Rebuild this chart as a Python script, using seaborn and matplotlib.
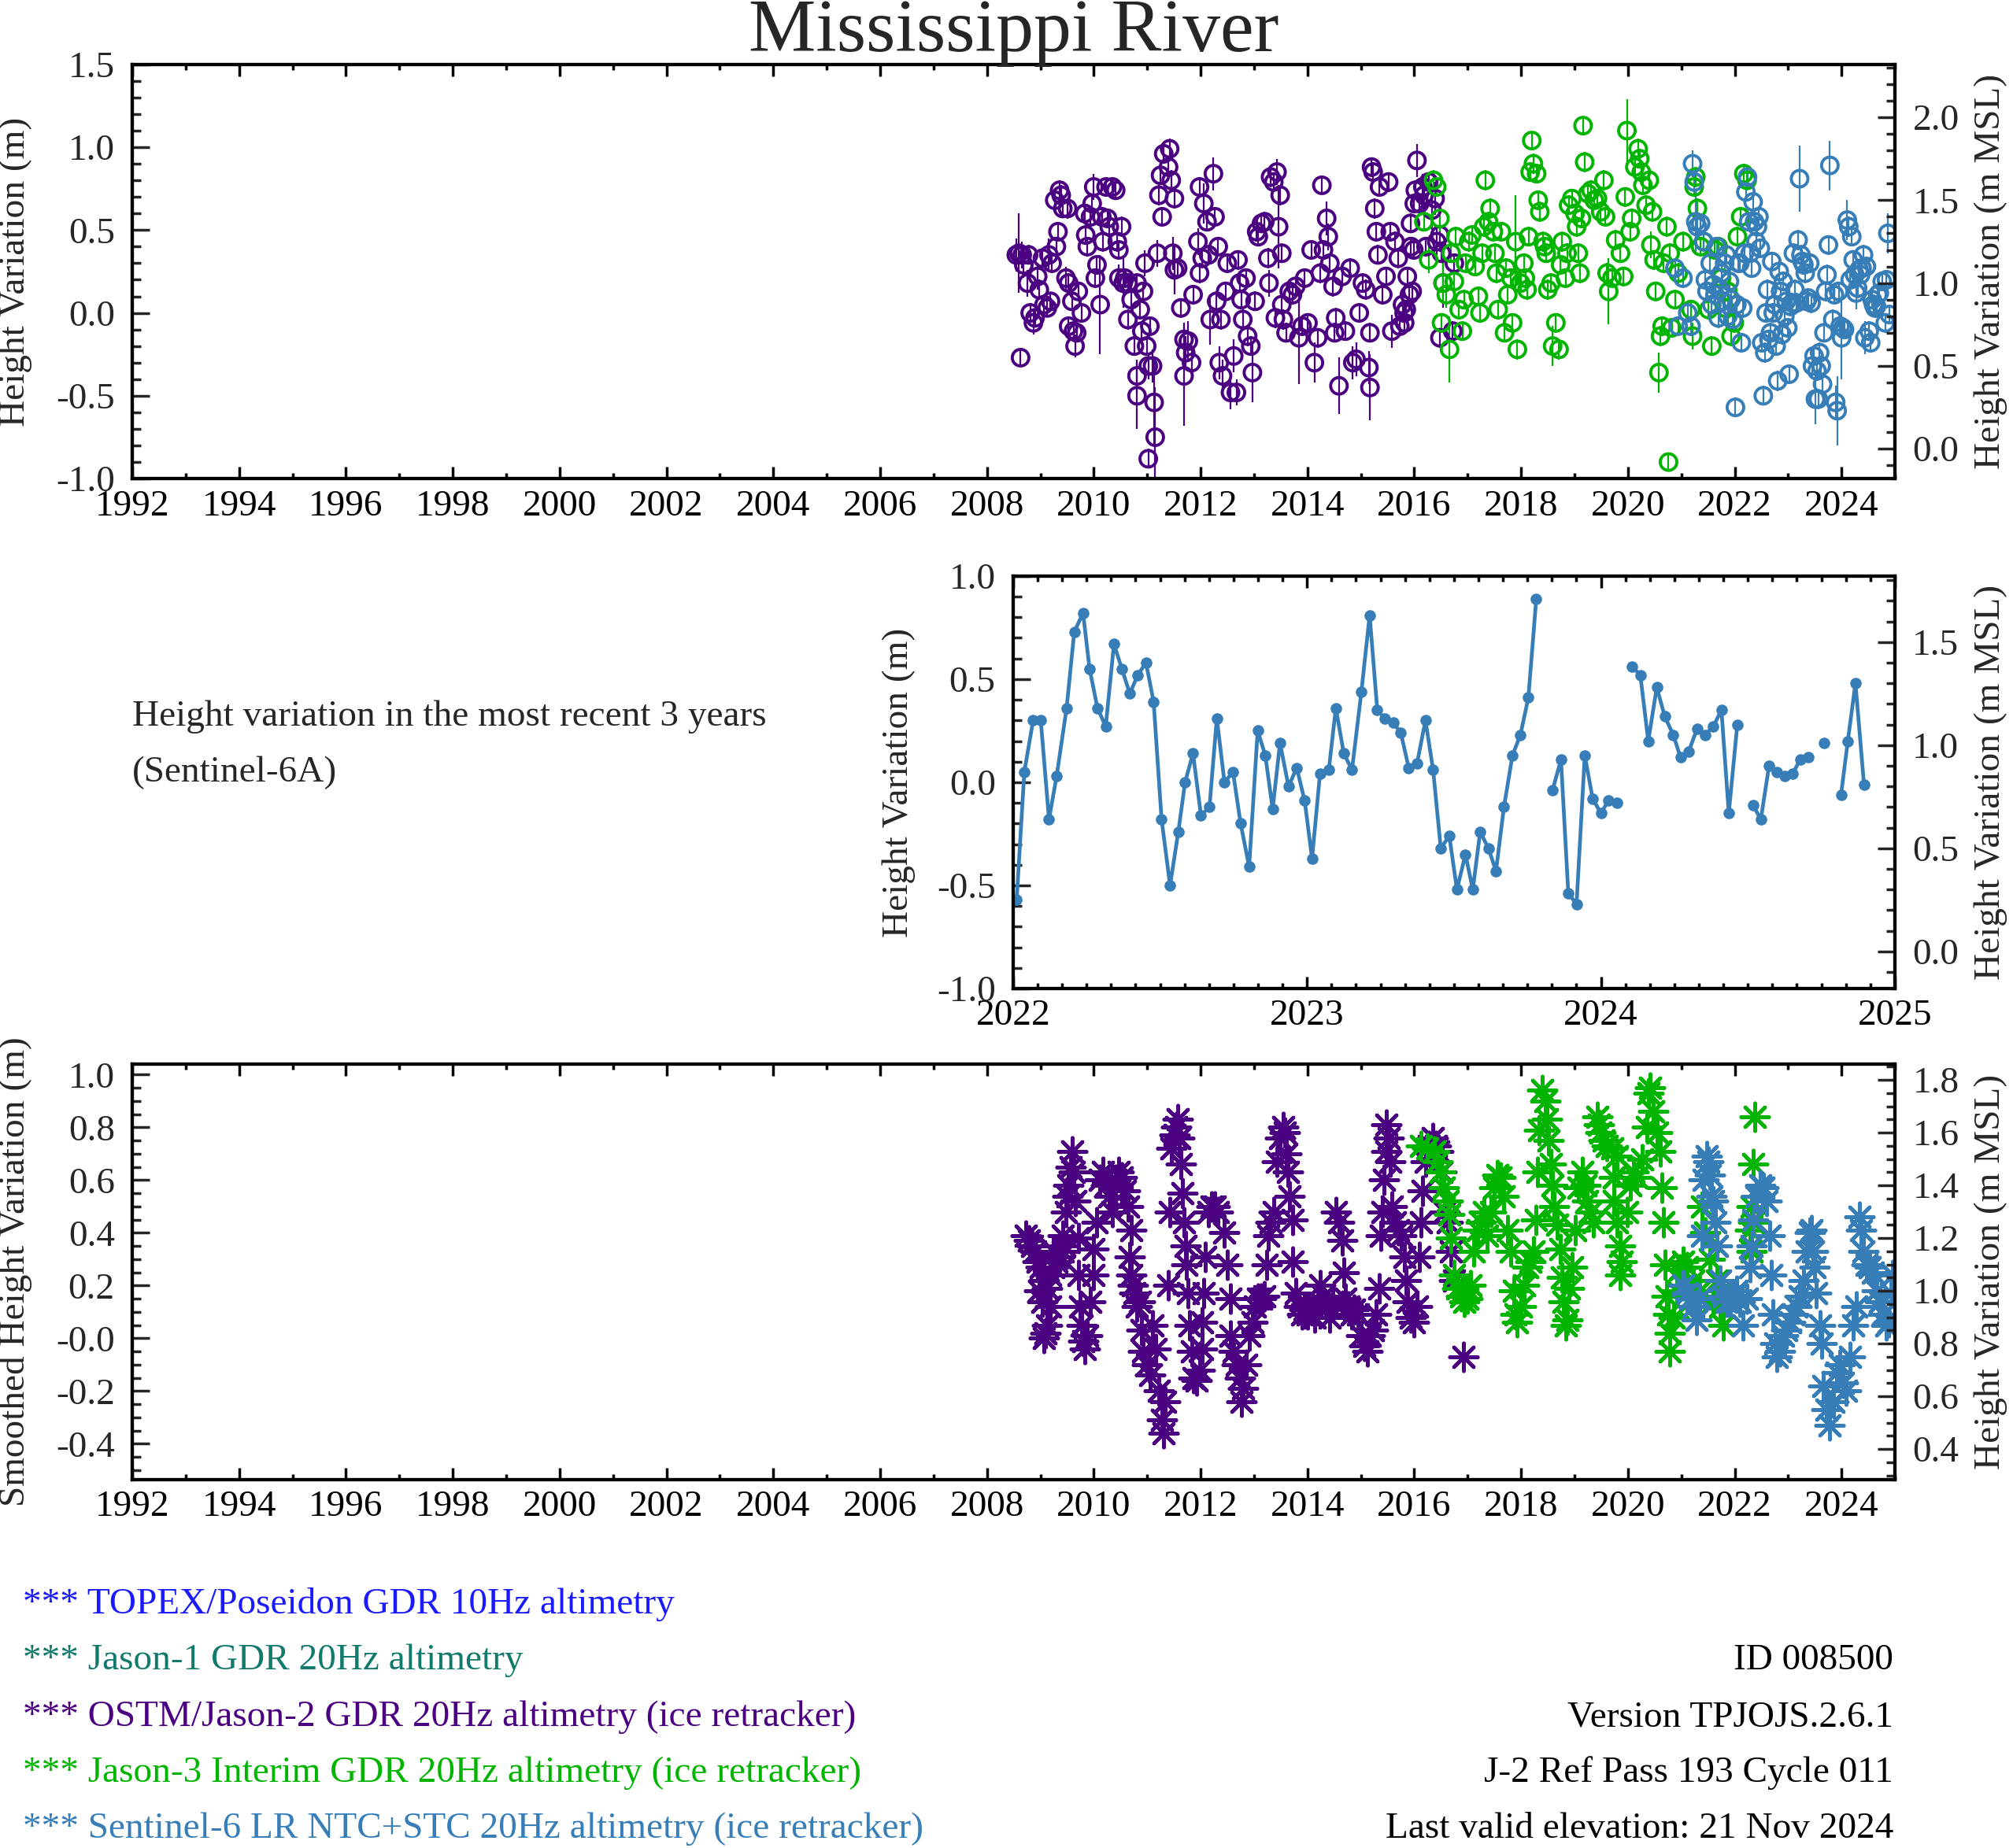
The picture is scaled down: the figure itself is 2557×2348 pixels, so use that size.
import numpy as np
import pandas as pd
import seaborn as sns
import matplotlib.pyplot as plt
from matplotlib.ticker import MultipleLocator

# mission colours
J2_COLOR = '#4b0082'
J3_COLOR = '#00b400'
S6_COLOR = '#377eb8'
MSL_OFFSET = 0.82  # right axis (m MSL) = left axis + offset

# OSTM/Jason-2 heights: (decimal year, height m, error m)
j2_obs = [
    (2008.55, 0.35, 0.10), (2008.60, 0.36, 0.24), (2008.66, 0.35, 0.08), (2008.63, -0.27, 0.05),
    (2008.69, 0.29, 0.08), (2008.76, 0.18, 0.08), (2008.78, 0.35, 0.06), (2008.81, 0.00, 0.06),
    (2008.87, -0.06, 0.07), (2008.90, -0.03, 0.05), (2008.95, 0.22, 0.08), (2008.98, 0.14, 0.06),
    (2009.04, 0.33, 0.06), (2009.07, 0.05, 0.06), (2009.13, 0.03, 0.05), (2009.16, 0.35, 0.10),
    (2009.19, 0.07, 0.05), (2009.22, 0.30, 0.06), (2009.27, 0.68, 0.06), (2009.30, 0.40, 0.06),
    (2009.33, 0.49, 0.06), (2009.36, 0.74, 0.06), (2009.39, 0.71, 0.06), (2009.42, 0.63, 0.05),
    (2009.48, 0.21, 0.07), (2009.51, 0.63, 0.06), (2009.53, 0.18, 0.06), (2009.53, -0.08, 0.06),
    (2009.59, 0.07, 0.06), (2009.62, -0.11, 0.06), (2009.65, -0.20, 0.07), (2009.68, -0.12, 0.06),
    (2009.71, 0.13, 0.06), (2009.77, 0.00, 0.06), (2009.83, 0.60, 0.06), (2009.85, 0.47, 0.06),
    (2009.88, 0.40, 0.06), (2009.94, 0.58, 0.06), (2009.97, 0.66, 0.06), (2010.00, 0.76, 0.08),
    (2010.03, 0.21, 0.06), (2010.06, 0.29, 0.06), (2010.12, 0.05, 0.30), (2010.15, 0.58, 0.06),
    (2010.17, 0.43, 0.06), (2010.23, 0.76, 0.06), (2010.26, 0.57, 0.06), (2010.29, 0.52, 0.06),
    (2010.35, 0.76, 0.06), (2010.41, 0.74, 0.05), (2010.44, 0.43, 0.06), (2010.47, 0.38, 0.06),
    (2010.47, 0.21, 0.08), (2010.52, 0.52, 0.06), (2010.55, 0.18, 0.15), (2010.58, 0.21, 0.06),
    (2010.64, 0.18, 0.06), (2010.64, -0.04, 0.06), (2010.70, 0.08, 0.06), (2010.76, -0.20, 0.06),
    (2010.81, 0.18, 0.06), (2010.81, -0.38, 0.10), (2010.81, -0.50, 0.20), (2010.87, 0.02, 0.06),
    (2010.90, -0.11, 0.06), (2010.93, 0.13, 0.06), (2010.96, 0.30, 0.08), (2010.99, -0.20, 0.06),
    (2011.02, -0.32, 0.08), (2011.02, -0.88, 0.06), (2011.05, -0.08, 0.06), (2011.10, -0.32, 0.10),
    (2011.13, -0.54, 0.25), (2011.15, -0.75, 0.30), (2011.19, 0.36, 0.08), (2011.22, 0.71, 0.06),
    (2011.25, 0.83, 0.06), (2011.28, 0.58, 0.06), (2011.31, 0.96, 0.06), (2011.40, 0.88, 0.06),
    (2011.42, 0.99, 0.06), (2011.45, 0.80, 0.06), (2011.48, 0.36, 0.10), (2011.51, 0.69, 0.06),
    (2011.51, 0.26, 0.15), (2011.57, 0.27, 0.06), (2011.63, 0.03, 0.06), (2011.69, -0.16, 0.10),
    (2011.72, -0.24, 0.10), (2011.77, -0.17, 0.12), (2011.69, -0.38, 0.30), (2011.83, -0.30, 0.10),
    (2011.86, 0.11, 0.06), (2011.95, 0.43, 0.08), (2011.98, 0.76, 0.06), (2011.98, 0.24, 0.06),
    (2012.03, 0.33, 0.06), (2012.06, 0.66, 0.12), (2012.12, 0.55, 0.06), (2012.15, 0.35, 0.06),
    (2012.18, -0.04, 0.15), (2012.24, 0.84, 0.10), (2012.27, 0.58, 0.06), (2012.30, 0.07, 0.06),
    (2012.33, 0.40, 0.06), (2012.35, -0.30, 0.10), (2012.38, -0.04, 0.06), (2012.41, -0.38, 0.10),
    (2012.47, 0.13, 0.06), (2012.50, 0.30, 0.06), (2012.56, -0.48, 0.10), (2012.62, -0.26, 0.10),
    (2012.67, -0.48, 0.08), (2012.70, 0.32, 0.06), (2012.73, 0.18, 0.06), (2012.76, 0.08, 0.06),
    (2012.79, -0.04, 0.06), (2012.85, 0.21, 0.06), (2012.88, -0.14, 0.06), (2012.94, -0.20, 0.06),
    (2012.97, -0.36, 0.18), (2013.02, 0.07, 0.06), (2013.05, 0.49, 0.06), (2013.08, 0.46, 0.06),
    (2013.14, 0.54, 0.06), (2013.20, 0.55, 0.06), (2013.26, 0.33, 0.06), (2013.28, 0.18, 0.08),
    (2013.31, 0.82, 0.06), (2013.37, 0.79, 0.06), (2013.43, 0.85, 0.08), (2013.46, 0.52, 0.25),
    (2013.49, 0.71, 0.06), (2013.52, 0.36, 0.06), (2013.40, -0.03, 0.06), (2013.52, 0.05, 0.06),
    (2013.55, -0.04, 0.06), (2013.60, -0.12, 0.06), (2013.66, 0.13, 0.06), (2013.72, 0.11, 0.06),
    (2013.78, 0.16, 0.06), (2013.84, -0.15, 0.28), (2013.90, -0.08, 0.06), (2013.95, 0.21, 0.06),
    (2014.01, -0.06, 0.06), (2014.07, 0.38, 0.06), (2014.13, -0.30, 0.12), (2014.19, -0.15, 0.06),
    (2014.24, 0.24, 0.06), (2014.27, 0.77, 0.05), (2014.30, 0.38, 0.06), (2014.36, 0.57, 0.10),
    (2014.39, 0.46, 0.08), (2014.42, 0.30, 0.06), (2014.48, 0.16, 0.06), (2014.51, -0.12, 0.06),
    (2014.53, -0.03, 0.06), (2014.59, -0.44, 0.17), (2014.65, 0.22, 0.06), (2014.71, -0.11, 0.06),
    (2014.80, 0.27, 0.06), (2014.85, -0.30, 0.10), (2014.91, -0.28, 0.10), (2014.97, 0.00, 0.06),
    (2015.03, 0.18, 0.06), (2015.09, 0.14, 0.06), (2015.15, -0.33, 0.10), (2015.17, -0.45, 0.20),
    (2015.17, -0.12, 0.06), (2015.20, 0.88, 0.06), (2015.23, 0.85, 0.06), (2015.26, 0.63, 0.06),
    (2015.29, 0.49, 0.06), (2015.32, 0.35, 0.06), (2015.35, 0.76, 0.06), (2015.41, 0.11, 0.06),
    (2015.47, 0.22, 0.06), (2015.52, 0.79, 0.06), (2015.55, 0.49, 0.06), (2015.58, -0.11, 0.10),
    (2015.64, 0.43, 0.06), (2015.70, 0.33, 0.06), (2015.73, -0.08, 0.06), (2015.78, 0.05, 0.06),
    (2015.81, 0.00, 0.06), (2015.82, -0.06, 0.06), (2015.85, 0.02, 0.06), (2015.87, 0.22, 0.06),
    (2015.91, 0.11, 0.06), (2015.93, 0.54, 0.06), (2015.94, 0.40, 0.06), (2015.96, 0.13, 0.06),
    (2015.99, 0.38, 0.06), (2016.00, 0.66, 0.06), (2016.02, 0.74, 0.06), (2016.05, 0.92, 0.10),
    (2016.10, 0.66, 0.06), (2016.16, 0.76, 0.08), (2016.18, 0.71, 0.10), (2016.22, 0.40, 0.06),
    (2016.27, 0.79, 0.06), (2016.33, 0.62, 0.12), (2016.39, 0.69, 0.10), (2016.42, 0.43, 0.08),
    (2016.48, 0.47, 0.10), (2016.48, -0.15, 0.06), (2016.51, 0.36, 0.06), (2016.54, 0.18, 0.15),
    (2016.72, -0.11, 0.06), (2016.75, 0.30, 0.06),
]

# Jason-3 heights: (decimal year, height m, error m)
j3_obs = [
    (2016.18, 0.55, 0.06), (2016.27, 0.32, 0.08), (2016.36, 0.80, 0.06), (2016.42, 0.76, 0.06),
    (2016.48, 0.57, 0.08), (2016.51, -0.06, 0.06), (2016.54, 0.18, 0.12), (2016.60, 0.11, 0.08),
    (2016.66, -0.22, 0.20), (2016.69, 0.36, 0.06), (2016.75, 0.19, 0.06), (2016.78, 0.46, 0.06),
    (2016.84, 0.02, 0.06), (2016.90, -0.11, 0.06), (2016.93, 0.08, 0.06), (2016.96, 0.30, 0.06),
    (2017.02, 0.43, 0.06), (2017.08, 0.47, 0.06), (2017.14, 0.28, 0.06), (2017.20, 0.10, 0.06),
    (2017.23, 0.00, 0.06), (2017.27, 0.36, 0.06), (2017.30, 0.52, 0.06), (2017.33, 0.80, 0.06),
    (2017.39, 0.55, 0.06), (2017.42, 0.63, 0.06), (2017.48, 0.49, 0.06), (2017.51, 0.36, 0.06),
    (2017.54, 0.24, 0.06), (2017.57, 0.02, 0.06), (2017.63, 0.49, 0.06), (2017.69, -0.12, 0.06),
    (2017.72, 0.27, 0.06), (2017.75, 0.11, 0.06), (2017.81, 0.21, 0.06), (2017.84, -0.06, 0.06),
    (2017.90, 0.43, 0.28), (2017.93, -0.22, 0.06), (2017.99, 0.18, 0.06), (2018.05, 0.30, 0.06),
    (2018.08, 0.21, 0.06), (2018.11, 0.14, 0.06), (2018.14, 0.46, 0.06), (2018.17, 0.85, 0.06),
    (2018.20, 1.04, 0.05), (2018.23, 0.90, 0.06), (2018.29, 0.84, 0.06), (2018.32, 0.68, 0.06),
    (2018.35, 0.61, 0.06), (2018.41, 0.43, 0.06), (2018.44, 0.40, 0.06), (2018.47, 0.36, 0.06),
    (2018.50, 0.14, 0.06), (2018.56, 0.18, 0.06), (2018.59, -0.20, 0.12), (2018.65, -0.06, 0.06),
    (2018.71, -0.22, 0.06), (2018.74, 0.29, 0.06), (2018.77, 0.43, 0.06), (2018.83, 0.21, 0.06),
    (2018.86, 0.36, 0.06), (2018.89, 0.65, 0.06), (2018.95, 0.69, 0.06), (2019.01, 0.60, 0.06),
    (2019.04, 0.52, 0.06), (2019.07, 0.36, 0.06), (2019.10, 0.24, 0.06), (2019.13, 0.57, 0.06),
    (2019.16, 1.13, 0.05), (2019.19, 0.91, 0.06), (2019.25, 0.72, 0.06), (2019.31, 0.74, 0.06),
    (2019.37, 0.68, 0.06), (2019.43, 0.69, 0.06), (2019.49, 0.61, 0.06), (2019.55, 0.80, 0.06),
    (2019.58, 0.58, 0.06), (2019.61, 0.24, 0.06), (2019.64, 0.13, 0.20), (2019.70, 0.21, 0.06),
    (2019.77, 0.44, 0.06), (2019.86, 0.36, 0.06), (2019.92, 0.22, 0.06), (2019.95, 0.70, 0.06),
    (2019.98, 1.10, 0.19), (2020.04, 0.49, 0.06), (2020.07, 0.57, 0.06), (2020.13, 0.88, 0.06),
    (2020.19, 0.99, 0.06), (2020.22, 0.93, 0.06), (2020.25, 0.85, 0.06), (2020.28, 0.77, 0.06),
    (2020.34, 0.65, 0.06), (2020.40, 0.80, 0.06), (2020.43, 0.41, 0.08), (2020.46, 0.61, 0.06),
    (2020.49, 0.32, 0.06), (2020.52, 0.13, 0.06), (2020.58, -0.36, 0.12), (2020.61, -0.14, 0.06),
    (2020.64, -0.08, 0.06), (2020.67, 0.30, 0.06), (2020.73, 0.52, 0.06), (2020.76, -0.90, 0.05),
    (2020.79, 0.36, 0.06), (2020.82, -0.09, 0.06), (2020.88, 0.08, 0.06), (2020.94, 0.24, 0.06),
    (2021.03, 0.43, 0.06), (2021.18, 0.02, 0.06), (2021.21, -0.14, 0.08), (2021.24, 0.76, 0.06),
    (2021.27, 0.82, 0.06), (2021.30, 0.63, 0.06), (2021.36, 0.40, 0.06), (2021.42, 0.43, 0.06),
    (2021.51, 0.02, 0.06), (2021.57, -0.20, 0.06), (2021.63, 0.38, 0.06), (2021.69, 0.40, 0.06),
    (2021.75, 0.21, 0.06), (2021.81, 0.03, 0.06), (2021.87, 0.13, 0.06), (2021.93, -0.14, 0.06),
    (2021.99, -0.06, 0.06), (2022.05, 0.46, 0.06), (2022.11, 0.58, 0.06), (2022.17, 0.84, 0.06),
    (2022.23, 0.80, 0.06),
]

# Sentinel-6 heights before 2022: (decimal year, height m, error m)
s6_early_obs = [
    (2020.88, 0.27, 0.06), (2020.94, -0.08, 0.06), (2021.03, 0.21, 0.06), (2021.12, 0.00, 0.06),
    (2021.18, -0.08, 0.06), (2021.21, 0.90, 0.08), (2021.24, 0.79, 0.06), (2021.27, 0.55, 0.20),
    (2021.30, 0.52, 0.06), (2021.36, 0.54, 0.06), (2021.42, 0.43, 0.06), (2021.45, 0.20, 0.06),
    (2021.48, 0.13, 0.06), (2021.54, 0.30, 0.06), (2021.57, 0.05, 0.06), (2021.60, 0.17, 0.06),
    (2021.63, 0.11, 0.06), (2021.66, 0.40, 0.06), (2021.69, -0.03, 0.06), (2021.72, 0.14, 0.06),
    (2021.75, 0.24, 0.06), (2021.78, 0.07, 0.06), (2021.81, 0.30, 0.06), (2021.84, 0.35, 0.06),
    (2021.87, -0.02, 0.06), (2021.90, 0.19, 0.06), (2021.93, 0.08, 0.06), (2021.96, -0.04, 0.06),
]

# Sentinel-6A heights of the last 3 years (also the middle panel)
s6_obs = [
    (2022.012, -0.57, 0.06), (2022.038, 0.05, 0.06), (2022.068, 0.30, 0.06), (2022.094, 0.30, 0.06),
    (2022.122, -0.18, 0.06), (2022.148, 0.03, 0.06), (2022.182, 0.36, 0.06), (2022.208, 0.73, 0.06),
    (2022.238, 0.82, 0.06), (2022.260, 0.55, 0.06), (2022.287, 0.36, 0.06), (2022.315, 0.27, 0.06),
    (2022.343, 0.67, 0.06), (2022.370, 0.55, 0.06), (2022.397, 0.43, 0.06), (2022.424, 0.52, 0.06),
    (2022.452, 0.58, 0.06), (2022.478, 0.39, 0.06), (2022.505, -0.18, 0.06), (2022.534, -0.50, 0.06),
    (2022.562, -0.24, 0.06), (2022.585, 0.00, 0.06), (2022.612, 0.14, 0.06), (2022.639, -0.16, 0.06),
    (2022.668, -0.12, 0.06), (2022.693, 0.31, 0.06), (2022.719, 0.00, 0.06), (2022.748, 0.05, 0.06),
    (2022.774, -0.20, 0.06), (2022.803, -0.41, 0.06), (2022.832, 0.25, 0.06), (2022.858, 0.13, 0.06),
    (2022.883, -0.13, 0.06), (2022.908, 0.19, 0.06), (2022.937, -0.02, 0.06), (2022.965, 0.07, 0.06),
    (2022.992, -0.09, 0.06), (2023.017, -0.37, 0.06), (2023.044, 0.04, 0.06), (2023.074, 0.06, 0.06),
    (2023.098, 0.36, 0.06), (2023.125, 0.14, 0.06), (2023.153, 0.06, 0.06), (2023.185, 0.44, 0.06),
    (2023.213, 0.81, 0.20), (2023.239, 0.35, 0.06), (2023.264, 0.31, 0.06), (2023.293, 0.29, 0.06),
    (2023.319, 0.24, 0.06), (2023.346, 0.07, 0.06), (2023.374, 0.09, 0.06), (2023.403, 0.30, 0.06),
    (2023.429, 0.06, 0.06), (2023.455, -0.32, 0.06), (2023.484, -0.26, 0.06), (2023.510, -0.52, 0.15),
    (2023.539, -0.35, 0.06), (2023.564, -0.52, 0.06), (2023.589, -0.24, 0.06), (2023.617, -0.32, 0.06),
    (2023.643, -0.43, 0.06), (2023.670, -0.12, 0.06), (2023.699, 0.13, 0.06), (2023.726, 0.23, 0.06),
    (2023.753, 0.41, 0.06), (2023.780, 0.89, 0.15), (2023.835, -0.04, 0.06), (2023.864, 0.11, 0.06),
    (2023.889, -0.54, 0.10), (2023.917, -0.59, 0.21), (2023.945, 0.13, 0.06), (2023.972, -0.08, 0.06),
    (2024.000, -0.15, 0.25), (2024.025, -0.09, 0.06), (2024.054, -0.10, 0.06), (2024.106, 0.56, 0.12),
    (2024.134, 0.52, 0.06), (2024.161, 0.20, 0.06), (2024.190, 0.46, 0.06), (2024.217, 0.32, 0.06),
    (2024.246, 0.23, 0.06), (2024.271, 0.12, 0.10), (2024.299, 0.15, 0.06), (2024.327, 0.26, 0.06),
    (2024.354, 0.23, 0.06), (2024.382, 0.27, 0.06), (2024.410, 0.35, 0.06), (2024.435, -0.15, 0.10),
    (2024.464, 0.28, 0.06), (2024.517, -0.11, 0.06), (2024.544, -0.18, 0.06), (2024.572, 0.08, 0.06),
    (2024.598, 0.05, 0.06), (2024.624, 0.03, 0.06), (2024.652, 0.04, 0.06), (2024.678, 0.11, 0.06),
    (2024.706, 0.12, 0.06), (2024.760, 0.19, 0.06), (2024.817, -0.06, 0.06), (2024.840, 0.20, 0.06),
    (2024.866, 0.48, 0.12), (2024.895, -0.01, 0.06),
]

# smoothed heights: (decimal year, height m)
j2_smooth = [
    (2008.72, 0.39), (2008.78, 0.37), (2008.84, 0.35), (2008.90, 0.33), (2008.95, 0.29), (2009.01, 0.27),
    (2009.07, 0.22), (2008.98, 0.18), (2009.04, 0.14), (2009.07, 0.00), (2009.10, 0.02), (2009.13, 0.05),
    (2009.19, 0.12), (2009.13, 0.19), (2009.19, 0.24), (2009.24, 0.27), (2009.24, 0.33), (2009.30, 0.29),
    (2009.36, 0.31), (2009.42, 0.33), (2009.45, 0.35), (2009.42, 0.39), (2009.48, 0.48), (2009.51, 0.54),
    (2009.53, 0.58), (2009.56, 0.65), (2009.59, 0.71), (2009.62, 0.63), (2009.65, 0.52), (2009.71, 0.38),
    (2009.71, 0.24), (2009.74, 0.12), (2009.77, 0.05), (2009.80, -0.01), (2009.83, -0.04), (2009.88, 0.01),
    (2009.94, 0.14), (2010.00, 0.24), (2010.00, 0.34), (2010.06, 0.44), (2010.12, 0.60), (2010.17, 0.63),
    (2010.23, 0.58), (2010.29, 0.54), (2010.35, 0.48), (2010.41, 0.60), (2010.47, 0.63), (2010.52, 0.61),
    (2010.58, 0.56), (2010.64, 0.50), (2010.70, 0.41), (2010.67, 0.31), (2010.70, 0.24), (2010.73, 0.20),
    (2010.76, 0.17), (2010.81, 0.12), (2010.87, 0.14), (2010.90, 0.03), (2010.93, -0.05), (2010.99, -0.10),
    (2011.05, -0.14), (2011.10, 0.05), (2011.16, -0.04), (2011.22, -0.20), (2011.28, -0.31), (2011.31, -0.36),
    (2011.34, -0.24), (2011.40, 0.20), (2011.42, 0.48), (2011.45, 0.72), (2011.51, 0.77), (2011.57, 0.83),
    (2011.54, 0.80), (2011.60, 0.76), (2011.63, 0.66), (2011.66, 0.55), (2011.69, 0.44), (2011.72, 0.35),
    (2011.74, 0.28), (2011.77, 0.17), (2011.80, 0.05), (2011.83, -0.05), (2011.86, -0.15), (2011.92, -0.16),
    (2011.98, -0.12), (2012.03, -0.04), (2012.03, 0.06), (2012.06, 0.17), (2012.09, 0.31), (2012.15, 0.48),
    (2012.21, 0.50), (2012.27, 0.50), (2012.33, 0.48), (2012.44, 0.40), (2012.50, 0.28), (2012.56, 0.15),
    (2012.56, 0.01), (2012.62, -0.05), (2012.67, -0.10), (2012.73, -0.15), (2012.76, -0.24), (2012.79, -0.19),
    (2012.85, -0.10), (2012.91, 0.01), (2012.97, 0.06), (2013.02, 0.12), (2013.08, 0.15), (2013.14, 0.15),
    (2013.20, 0.16), (2013.23, 0.28), (2013.26, 0.39), (2013.31, 0.44), (2013.37, 0.48), (2013.43, 0.67),
    (2013.49, 0.76), (2013.55, 0.80), (2013.58, 0.78), (2013.60, 0.70), (2013.63, 0.63), (2013.66, 0.54),
    (2013.72, 0.45), (2013.72, 0.29), (2013.78, 0.17), (2013.84, 0.12), (2013.90, 0.09), (2013.95, 0.11),
    (2014.01, 0.09), (2014.13, 0.08), (2014.19, 0.12), (2014.24, 0.20), (2014.30, 0.16), (2014.36, 0.12),
    (2014.42, 0.08), (2014.48, 0.14), (2014.53, 0.48), (2014.59, 0.44), (2014.65, 0.37), (2014.68, 0.25),
    (2014.71, 0.15), (2014.77, 0.12), (2014.83, 0.09), (2014.88, 0.11), (2014.94, 0.09), (2015.00, 0.01),
    (2015.06, -0.03), (2015.12, -0.05), (2015.17, 0.01), (2015.23, 0.03), (2015.29, 0.09), (2015.35, 0.19),
    (2015.38, 0.39), (2015.41, 0.48), (2015.44, 0.60), (2015.47, 0.71), (2015.47, 0.81), (2015.52, 0.76),
    (2015.55, 0.67), (2015.58, 0.50), (2015.64, 0.44), (2015.70, 0.41), (2015.76, 0.39), (2015.81, 0.31),
    (2015.84, 0.22), (2015.87, 0.14), (2015.93, 0.08), (2015.99, 0.06), (2016.05, 0.12), (2016.10, 0.31),
    (2016.13, 0.44), (2016.16, 0.56), (2016.22, 0.67), (2016.28, 0.73), (2016.34, 0.76), (2016.40, 0.73),
    (2016.45, 0.71), (2016.51, 0.63), (2016.57, 0.48), (2016.63, 0.44), (2016.69, 0.33), (2016.74, 0.22),
    (2016.92, -0.07),
]

j3_smooth = [
    (2016.12, 0.73), (2016.25, 0.72), (2016.37, 0.71), (2016.44, 0.67), (2016.50, 0.63), (2016.56, 0.57),
    (2016.62, 0.52), (2016.65, 0.47), (2016.68, 0.38), (2016.75, 0.24), (2016.81, 0.19), (2016.87, 0.16),
    (2016.93, 0.14), (2017.00, 0.15), (2017.06, 0.20), (2017.12, 0.33), (2017.18, 0.41), (2017.25, 0.44),
    (2017.31, 0.48), (2017.37, 0.39), (2017.43, 0.48), (2017.49, 0.57), (2017.56, 0.62), (2017.62, 0.61),
    (2017.68, 0.54), (2017.74, 0.41), (2017.81, 0.33), (2017.87, 0.18), (2017.90, 0.09), (2017.93, 0.06),
    (2017.99, 0.12), (2018.05, 0.20), (2018.12, 0.27), (2018.18, 0.29), (2018.24, 0.33), (2018.27, 0.45),
    (2018.30, 0.63), (2018.33, 0.79), (2018.40, 0.94), (2018.46, 0.90), (2018.49, 0.83), (2018.52, 0.75),
    (2018.55, 0.66), (2018.58, 0.58), (2018.62, 0.50), (2018.68, 0.43), (2018.74, 0.34), (2018.77, 0.23),
    (2018.80, 0.14), (2018.83, 0.05), (2018.86, 0.07), (2018.90, 0.19), (2018.96, 0.27), (2019.02, 0.41),
    (2019.08, 0.57), (2019.14, 0.63), (2019.21, 0.58), (2019.24, 0.52), (2019.30, 0.48), (2019.36, 0.44),
    (2019.42, 0.84), (2019.46, 0.81), (2019.49, 0.78), (2019.55, 0.75), (2019.61, 0.73), (2019.70, 0.72),
    (2019.80, 0.69), (2019.74, 0.61), (2019.74, 0.52), (2019.80, 0.44), (2019.86, 0.35), (2019.89, 0.29),
    (2019.86, 0.24), (2019.99, 0.48), (2020.05, 0.58), (2020.11, 0.63), (2020.17, 0.61), (2020.27, 0.68),
    (2020.36, 0.80), (2020.39, 0.93), (2020.42, 0.95), (2020.48, 0.86), (2020.55, 0.78), (2020.61, 0.71),
    (2020.64, 0.57), (2020.67, 0.44), (2020.70, 0.28), (2020.73, 0.16), (2020.76, 0.09), (2020.79, 0.02),
    (2020.79, -0.05), (2020.86, 0.08), (2020.92, 0.18), (2020.98, 0.26), (2021.04, 0.29), (2021.11, 0.27),
    (2021.23, 0.22), (2021.35, 0.18), (2021.39, 0.50), (2021.45, 0.40), (2021.54, 0.30), (2021.60, 0.14),
    (2021.67, 0.22), (2021.73, 0.12), (2021.79, 0.05), (2021.88, 0.16), (2022.29, 0.41), (2022.32, 0.33),
    (2022.32, 0.50), (2022.35, 0.66), (2022.38, 0.84), (2022.35, 0.44),
]

s6_smooth = [
    (2021.04, 0.20), (2021.11, 0.17), (2021.17, 0.15), (2021.23, 0.12), (2021.29, 0.07), (2021.35, 0.15),
    (2021.39, 0.39), (2021.42, 0.60), (2021.48, 0.69), (2021.51, 0.67), (2021.54, 0.62), (2021.57, 0.54),
    (2021.60, 0.52), (2021.64, 0.44), (2021.67, 0.35), (2021.73, 0.22), (2021.79, 0.16), (2021.85, 0.14),
    (2021.92, 0.14), (2021.98, 0.16), (2022.04, 0.18), (2022.10, 0.14), (2022.16, 0.05), (2022.23, 0.15),
    (2022.29, 0.27), (2022.32, 0.35), (2022.35, 0.45), (2022.41, 0.54), (2022.48, 0.58), (2022.54, 0.57),
    (2022.60, 0.52), (2022.66, 0.39), (2022.69, 0.24), (2022.72, 0.09), (2022.76, -0.02), (2022.79, -0.07),
    (2022.85, -0.05), (2022.91, 0.01), (2022.97, 0.03), (2023.04, 0.06), (2023.10, 0.09), (2023.16, 0.12),
    (2023.22, 0.16), (2023.29, 0.22), (2023.35, 0.33), (2023.41, 0.40), (2023.44, 0.41), (2023.47, 0.33),
    (2023.50, 0.27), (2023.53, 0.17), (2023.60, 0.05), (2023.63, -0.02), (2023.66, -0.18), (2023.72, -0.27),
    (2023.78, -0.33), (2023.85, -0.24), (2023.91, -0.13), (2023.97, -0.10), (2024.03, -0.17), (2024.09, -0.20),
    (2024.16, -0.07), (2024.22, 0.05), (2024.28, 0.12), (2024.34, 0.46), (2024.37, 0.41), (2024.41, 0.33),
    (2024.47, 0.28), (2024.53, 0.27), (2024.59, 0.25), (2024.66, 0.18), (2024.72, 0.14), (2024.78, 0.09),
    (2024.84, 0.05), (2024.88, 0.06), (2024.92, 0.17), (2024.95, 0.24),
]

# tick values and labels
long_years = list(range(1992, 2025, 2))
recent_years = [2022, 2023, 2024, 2025]
top_yticks = [-1.0, -0.5, 0.0, 0.5, 1.0, 1.5]
top_rticks = [0.0, 0.5, 1.0, 1.5, 2.0]
mid_yticks = [-1.0, -0.5, 0.0, 0.5, 1.0]
mid_rticks = [0.0, 0.5, 1.0, 1.5]
bot_yticks = [-0.4, -0.2, 0.0, 0.2, 0.4, 0.6, 0.8, 1.0]
bot_ylabels = ['-0.4', '-0.2', '-0.0', '0.2', '0.4', '0.6', '0.8', '1.0']
bot_rticks = [0.4, 0.6, 0.8, 1.0, 1.2, 1.4, 1.6, 1.8]

mission_labels = [
    '*** TOPEX/Poseidon GDR 10Hz altimetry',
    '*** Jason-1 GDR 20Hz altimetry',
    '*** OSTM/Jason-2 GDR 20Hz altimetry (ice retracker)',
    '*** Jason-3 Interim GDR 20Hz altimetry (ice retracker)',
    '*** Sentinel-6 LR NTC+STC 20Hz altimetry (ice retracker)',
]
mission_colors = ['#1a1aff', '#127a6c', J2_COLOR, J3_COLOR, S6_COLOR]
info_lines = ['ID 008500', 'Version TPJOJS.2.6.1', 'J-2 Ref Pass 193 Cycle 011',
              'Last valid elevation: 21 Nov 2024']

sns.set_theme(style='ticks')
plt.rcParams['font.family'] = ['Liberation Serif', 'DejaVu Serif']
plt.rcParams['axes.linewidth'] = 3.0
plt.rcParams['axes.unicode_minus'] = False
FS = 34


def fmt(v, nd=1):
    return f'{v:.{nd}f}'


def setup(ax, xlim, xticks, xminor, ylim, yticks, ylabels, yminor, rticks, rminor, ylabel):
    ax.set_xlim(xlim)
    ax.set_ylim(ylim)
    ax.set_xticks(xticks)
    ax.set_xticklabels([str(x) for x in xticks])
    ax.xaxis.set_minor_locator(MultipleLocator(xminor))
    ax.set_yticks(yticks)
    ax.set_yticklabels(ylabels)
    ax.yaxis.set_minor_locator(MultipleLocator(yminor))
    ax.tick_params(axis='x', which='both', direction='in', top=True, bottom=True,
                   width=2.5, labelsize=FS, pad=10, colors='black')
    ax.tick_params(axis='x', which='major', length=10.5)
    ax.tick_params(axis='x', which='minor', length=5)
    ax.tick_params(axis='y', which='both', direction='in', left=True, right=False,
                   width=2.5, labelsize=FS, pad=16)
    ax.tick_params(axis='y', which='major', length=16)
    ax.tick_params(axis='y', which='minor', length=8)
    ax.set_xlabel('')
    ax.set_ylabel(ylabel, fontsize=FS)
    ax.yaxis.label.set_va('center')

    axr = ax.twinx()
    axr.set_ylim(ylim[0] + MSL_OFFSET, ylim[1] + MSL_OFFSET)
    axr.set_yticks(rticks)
    axr.set_yticklabels([fmt(v) for v in rticks])
    axr.yaxis.set_minor_locator(MultipleLocator(rminor))
    axr.tick_params(axis='y', which='both', direction='in', right=True, left=False,
                    width=2.5, labelsize=FS, pad=16)
    axr.tick_params(axis='y', which='major', length=16)
    axr.tick_params(axis='y', which='minor', length=8)
    axr.set_ylabel('Height Variation (m MSL)', fontsize=FS)
    axr.yaxis.label.set_va('center')
    for a in (ax, axr):
        for s in a.spines.values():
            s.set_linewidth(3.0)
            s.set_color('black')
    return axr


fig = plt.figure(figsize=(25.57, 23.48), dpi=100)
ax_top = fig.add_axes([0.0657, 0.7410, 0.8757, 0.2242])
ax_mid = fig.add_axes([0.5033, 0.4651, 0.4380, 0.2232])
ax_bot = fig.add_axes([0.0657, 0.1993, 0.8757, 0.2249])

# --- top: all altimetry heights with error bars
for obs, col in [(j2_obs, J2_COLOR), (j3_obs, J3_COLOR), (s6_early_obs + s6_obs, S6_COLOR)]:
    df = pd.DataFrame(obs, columns=['t', 'h', 'err'])
    ax_top.errorbar(df['t'], df['h'], yerr=df['err'], fmt='none', ecolor=col,
                    elinewidth=1.6, capsize=0, zorder=2)
    sns.scatterplot(data=df, x='t', y='h', ax=ax_top, marker='o', s=230,
                    facecolor='none', edgecolor=col, linewidth=2.8, zorder=3, legend=False)

r_top = setup(ax_top, (1992, 2025), long_years, 1, (-1.0, 1.5), top_yticks,
              [fmt(v) for v in top_yticks], 0.1, top_rticks, 0.1, 'Height Variation (m)')
ax_top.yaxis.set_label_coords(-0.0661, 0.5)
r_top.yaxis.set_label_coords(1.0545, 0.5)

# --- middle: Sentinel-6A, most recent 3 years
mid = pd.DataFrame(s6_obs, columns=['t', 'h', 'err'])
mid['seg'] = (mid['t'].diff() > 0.04).cumsum()
sns.lineplot(data=mid, x='t', y='h', units='seg', estimator=None, sort=False, ax=ax_mid,
             color=S6_COLOR, linewidth=3.4, marker='o', markersize=10.5,
             markeredgewidth=0, legend=False)
r_mid = setup(ax_mid, (2022, 2025), recent_years, 1 / 12, (-1.0, 1.0), mid_yticks,
              [fmt(v) for v in mid_yticks], 0.1, mid_rticks, 0.1, 'Height Variation (m)')
ax_mid.yaxis.set_label_coords(-0.130, 0.5)
r_mid.yaxis.set_label_coords(1.109, 0.5)

# --- bottom: smoothed heights
for obs, col in [(j2_smooth, J2_COLOR), (j3_smooth, J3_COLOR), (s6_smooth, S6_COLOR)]:
    df = pd.DataFrame(obs, columns=['t', 'h'])
    sns.scatterplot(data=df, x='t', y='h', ax=ax_bot, marker=(8, 2, 0), s=640,
                    color=col, linewidth=3.4, legend=False)
r_bot = setup(ax_bot, (1992, 2025), long_years, 1, (-0.536, 1.04), bot_yticks,
              bot_ylabels, 0.05, bot_rticks, 0.05, 'Smoothed Height Variation (m)')
ax_bot.yaxis.set_label_coords(-0.0661, 0.5)
r_bot.yaxis.set_label_coords(1.0545, 0.5)

# --- texts
fig.text(0.5037, 0.9723, 'Mississippi River', ha='center', va='baseline', fontsize=69)
fig.text(0.0657, 0.6075, 'Height variation in the most recent 3 years', ha='left',
         va='baseline', fontsize=FS)
fig.text(0.0657, 0.5771, '(Sentinel-6A)', ha='left', va='baseline', fontsize=FS)

label_y = [0.1269, 0.0967, 0.0660, 0.0358, 0.0055]
for txt, col, y in zip(mission_labels, mission_colors, label_y):
    fig.text(0.0114, y, txt, color=col, ha='left', va='baseline', fontsize=FS)
for txt, y in zip(info_lines, label_y[1:]):
    fig.text(0.9406, y, txt, color='black', ha='right', va='baseline', fontsize=FS)

fig.savefig('out.png', dpi=100, facecolor='white')
